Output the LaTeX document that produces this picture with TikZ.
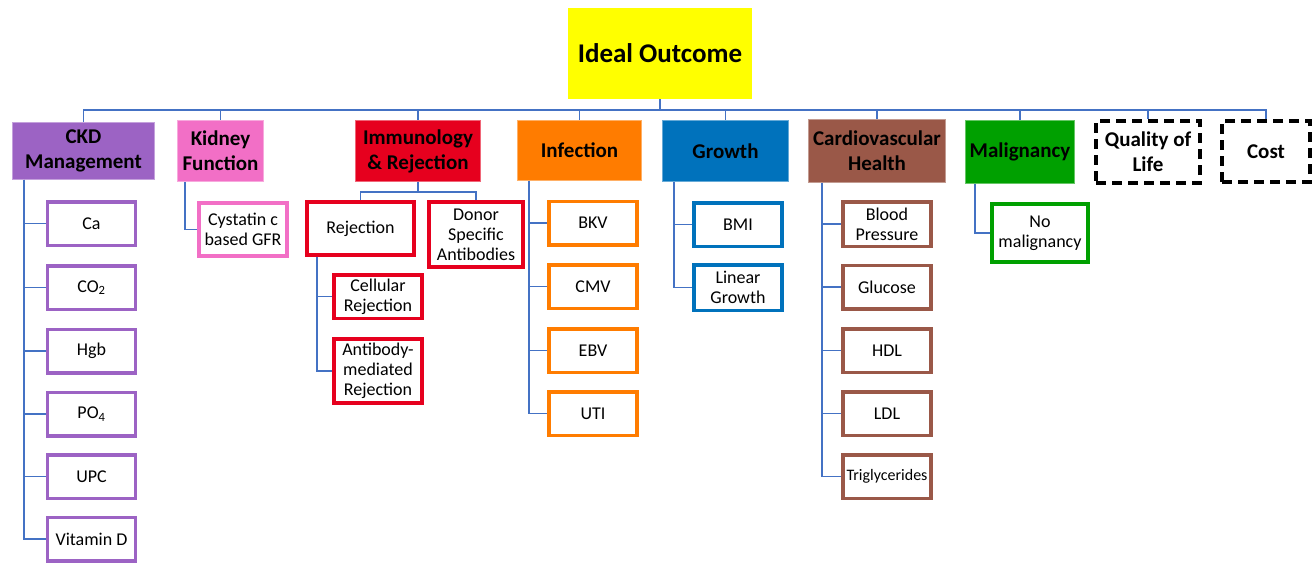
\documentclass[tikz,border=0pt]{standalone}
\usepackage{fontspec}
\setmainfont{Carlito}
\begin{document}
\begin{tikzpicture}[x=1pt,y=-1pt,
  conn/.style={draw=linkblue,line width=1.6pt},
  catbox/.style={rectangle,inner sep=0pt,align=center,text=black,
    font=\fontsize{21}{25}\selectfont\bfseries,line width=0.8pt},
  leaf/.style={rectangle,inner sep=0pt,align=center,fill=white,line width=3.5pt,
    font=\fontsize{18}{20}\selectfont,minimum width=88pt,minimum height=43.5pt},
  dashbox/.style={catbox,draw=black,line width=4pt,dash pattern=on 10pt off 6pt}]
\definecolor{linkblue}{HTML}{4472C4}
\definecolor{ckdc}{HTML}{9C63C4}
\definecolor{kidc}{HTML}{F26FC6}
\definecolor{immc}{HTML}{E6001E}
\definecolor{infc}{HTML}{FF7C00}
\definecolor{groc}{HTML}{0072BC}
\definecolor{carc}{HTML}{9A5848}
\definecolor{malc}{HTML}{00A000}
\definecolor{idealc}{HTML}{FFFF00}

\useasboundingbox (0,0) rectangle (1314,562);

% root
\node[rectangle,fill=idealc,minimum width=184pt,minimum height=91pt,
  font=\fontsize{27}{30}\selectfont\bfseries] (ideal) at (660,53.5) {Ideal Outcome};

% category boxes
\node[catbox,fill=ckdc,draw=ckdc!60!white,minimum width=142pt,minimum height=57pt] (ckd) at (83.5,151) {CKD\\Management};
\node[catbox,fill=kidc,draw=kidc!60!white,minimum width=86pt,minimum height=61pt] (kid) at (220.5,151) {Kidney\\Function};
\node[catbox,fill=immc,draw=immc!60!white,minimum width=125pt,minimum height=61pt] (imm) at (418,151) {Immunology\\\& Rejection};
\node[catbox,fill=infc,draw=infc!60!white,minimum width=124pt,minimum height=60pt] (inf) at (579.5,150.5) {Infection};
\node[catbox,fill=groc,draw=groc!60!white,minimum width=126pt,minimum height=61pt] (gro) at (725.5,151) {Growth};
\node[catbox,fill=carc,draw=carc!60!white,minimum width=137pt,minimum height=63pt] (car) at (877,151) {Cardiovascular\\Health};
\node[catbox,fill=malc,draw=malc!60!white,minimum width=109pt,minimum height=63pt] (mal) at (1020,152) {Malignancy};
\node[dashbox,minimum width=104pt,minimum height=62pt] (qol) at (1148,152) {Quality of\\Life};
\node[dashbox,minimum width=88pt,minimum height=61pt] (cost) at (1266,151.5) {Cost};

% bus from the root to every category
\coordinate (bus) at (660,110);
\foreach \c in {ckd,kid,imm,inf,gro,car,mal,qol,cost}
  \draw[conn] (ideal.south) -- (bus) -| (\c.north);

% CKD management
\node[leaf,draw=ckdc] (ca)   at (91.5,223.5) {Ca};
\node[leaf,draw=ckdc] (co)   at (91.5,287.5) {CO\textsubscript{2}};
\node[leaf,draw=ckdc] (hgb)  at (91.5,351)   {Hgb};
\node[leaf,draw=ckdc] (po)   at (91.5,414)   {PO\textsubscript{4}};
\node[leaf,draw=ckdc] (upc)  at (91.5,476.5) {UPC};
\node[leaf,draw=ckdc] (vitd) at (91.5,539)   {Vitamin D};
\foreach \l in {ca,co,hgb,po,upc,vitd}
  \draw[conn] ([xshift=12pt]ckd.south west) |- (\l.west);

% kidney function
\node[leaf,draw=kidc,minimum width=88pt,minimum height=53pt] (cys) at (243,229.5) {Cystatin c\\based GFR};
\draw[conn] ([xshift=8pt]kid.south west) |- (cys.west);

% immunology and rejection
\node[leaf,draw=immc,minimum width=107pt,minimum height=53pt] (rej) at (360.5,228.5) {Rejection};
\node[leaf,draw=immc,minimum width=94pt,minimum height=65pt] (dsa) at (476,234.5) {Donor\\Specific\\Antibodies};
\node[leaf,draw=immc,minimum width=88pt,minimum height=43.5pt] (cell) at (378,296.5) {Cellular\\Rejection};
\node[leaf,draw=immc,minimum width=88pt,minimum height=64pt] (amr) at (378,371) {Antibody-\\mediated\\Rejection};
\draw[conn] (imm.south) -- ++(0,10) -| (rej.north);
\draw[conn] (imm.south) -- ++(0,10) -| (dsa.north);
\draw[conn] ([xshift=12pt]rej.south west) |- (cell.west);
\draw[conn] ([xshift=12pt]rej.south west) |- (amr.west);

% infection
\node[leaf,draw=infc] (bkv) at (593,223)   {BKV};
\node[leaf,draw=infc] (cmv) at (593,286.5) {CMV};
\node[leaf,draw=infc] (ebv) at (593,350.5) {EBV};
\node[leaf,draw=infc] (uti) at (593,413.5) {UTI};
\foreach \l in {bkv,cmv,ebv,uti}
  \draw[conn] ([xshift=12pt]inf.south west) |- (\l.west);

% growth
\node[leaf,draw=groc] (bmi) at (738,224.5) {BMI};
\node[leaf,draw=groc,minimum height=45.5pt] (lin) at (738,287.5) {Linear\\Growth};
\foreach \l in {bmi,lin}
  \draw[conn] ([xshift=12pt]gro.south west) |- (\l.west);

% cardiovascular health
\node[leaf,draw=carc,minimum height=44.5pt] (bp) at (887,224) {Blood\\Pressure};
\node[leaf,draw=carc] (glu) at (887,287)   {Glucose};
\node[leaf,draw=carc] (hdl) at (887,350.5) {HDL};
\node[leaf,draw=carc] (ldl) at (887,413.5) {LDL};
\node[leaf,draw=carc,font=\fontsize{16}{18}\selectfont] (tri) at (887,476.5) {Triglycerides};
\foreach \l in {bp,glu,hdl,ldl,tri}
  \draw[conn] ([xshift=14pt]car.south west) |- (\l.west);

% malignancy
\node[leaf,draw=malc,minimum width=96pt,minimum height=58pt] (nomal) at (1040,233) {No\\malignancy};
\draw[conn] ([xshift=10pt]mal.south west) |- (nomal.west);
\end{tikzpicture}
\end{document}
